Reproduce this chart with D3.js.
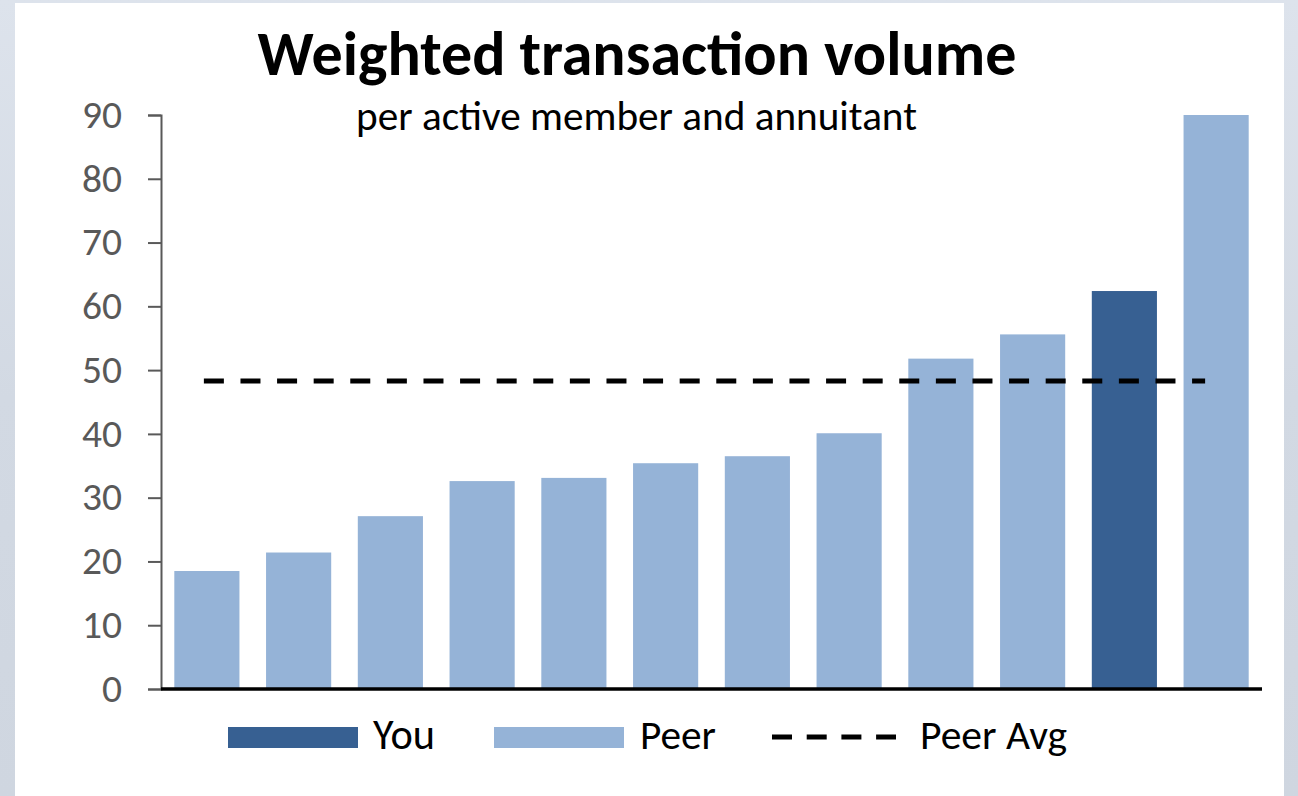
<!DOCTYPE html>
<html>
<head>
<meta charset="utf-8">
<script src="https://cdn.jsdelivr.net/npm/d3@7"></script>
<style>
  html, body { margin: 0; padding: 0; background: #d3dae3; }
  svg { display: block; }
</style>
</head>
<body>
<svg id="chart" width="1298" height="796"></svg>
<script>
// ---- data ----
const categories = ["P1","P2","P3","P4","P5","P6","P7","P8","P9","P10","You","P12"];
const groups = ["Peer","Peer","Peer","Peer","Peer","Peer","Peer","Peer","Peer","Peer","You","Peer"];
const values = [18.5, 21.4, 27.1, 32.6, 33.1, 35.4, 36.5, 40.1, 51.8, 55.6, 62.4, 90.0];
const peerAvg = 48.3;
const yTicks = [0, 10, 20, 30, 40, 50, 60, 70, 80, 90];
const legendItems = ["You", "Peer", "Peer Avg"];
const titleText = "Weighted transaction volume";
const subtitleText = "per active member and annuitant";

const colors = { You: "#376092", Peer: "#95b3d7" };
const FONT = "Carlito, Calibri, Lato, 'Open Sans', sans-serif";

const svg = d3.select("#chart");
const W = 1298, H = 796;

// background
const defs = svg.append("defs");
const grad = defs.append("linearGradient").attr("id", "bg").attr("x1", 0).attr("y1", 0).attr("x2", 0).attr("y2", 1);
grad.append("stop").attr("offset", "0%").attr("stop-color", "#dde3ec");
grad.append("stop").attr("offset", "50%").attr("stop-color", "#d2d9e3");
grad.append("stop").attr("offset", "100%").attr("stop-color", "#cfd6e0");
svg.append("rect").attr("width", W).attr("height", H).attr("fill", "url(#bg)");
svg.append("rect").attr("x", 15).attr("y", 3).attr("width", 1269).attr("height", H - 3).attr("fill", "#ffffff");

// scales
const x0 = 161, x1 = 1262, yTop = 115, yBot = 689;
const x = d3.scaleBand().domain(categories).range([x0, x1]).paddingInner(0.29).paddingOuter(0.145);
const y = d3.scaleLinear().domain([0, 90]).range([yBot, yTop]);

function fitText(sel, targetWidth) {
  const node = sel.node();
  const fs = parseFloat(sel.attr("font-size"));
  const w = node.getComputedTextLength();
  if (w > 0) sel.attr("font-size", (fs * targetWidth / w).toFixed(2));
  return parseFloat(sel.attr("font-size"));
}

// bars
svg.append("g").selectAll("rect")
  .data(values)
  .join("rect")
  .attr("x", (d, i) => x(categories[i]))
  .attr("width", x.bandwidth())
  .attr("y", d => y(d))
  .attr("height", d => y(0) - y(d))
  .attr("fill", (d, i) => colors[groups[i]]);

// y axis
const yAxis = svg.append("g")
  .attr("transform", `translate(${x0},0)`)
  .call(d3.axisLeft(y).tickValues(yTicks).tickSize(13).tickPadding(26).tickFormat(d3.format("d")));
yAxis.attr("font-size", null).attr("font-family", null);
yAxis.select(".domain").attr("stroke", "#595959").attr("stroke-width", 2);
yAxis.selectAll(".tick line").attr("stroke", "#595959").attr("stroke-width", 2);
const tickTexts = yAxis.selectAll(".tick text")
  .attr("fill", "#595959")
  .attr("font-family", FONT)
  .attr("font-size", 30)
  .attr("dy", "0.31em");
// fit size using the "90" label width
const lbl90 = tickTexts.filter(d => d === 90);
const tfs = fitText(lbl90, 40);
tickTexts.attr("font-size", tfs);

// x axis line
svg.append("line")
  .attr("x1", x0).attr("x2", x1)
  .attr("y1", y(0)).attr("y2", y(0))
  .attr("stroke", "#000").attr("stroke-width", 3.5);

// peer average line
const first = categories[0], last = categories[categories.length - 1];
svg.append("line")
  .attr("x1", x(first) + x.bandwidth() / 2 - 3)
  .attr("x2", x(last) + x.bandwidth() / 2 - 11)
  .attr("y1", y(peerAvg)).attr("y2", y(peerAvg))
  .attr("stroke", "#000").attr("stroke-width", 5)
  .attr("stroke-dasharray", "20,16.6");

// title
const t = svg.append("text")
  .attr("x", 637).attr("y", 75)
  .attr("text-anchor", "middle")
  .attr("font-family", FONT).attr("font-weight", "bold")
  .attr("font-size", 50).attr("fill", "#000")
  .text(titleText);
fitText(t, 759);

const st = svg.append("text")
  .attr("x", 636.5).attr("y", 130)
  .attr("text-anchor", "middle")
  .attr("font-family", FONT)
  .attr("font-size", 30).attr("fill", "#000")
  .text(subtitleText);
fitText(st, 561);

// legend
const lg = svg.append("g");
const legendPos = [
  { sx: 228, tx: 373, w: 62, type: "You" },
  { sx: 494, tx: 640, w: 76, type: "Peer" },
  { sx: 772, tx: 920, w: 147, type: "Avg" }
];
legendItems.forEach((name, i) => {
  const p = legendPos[i];
  if (p.type === "Avg") {
    lg.append("line")
      .attr("x1", p.sx).attr("x2", p.sx + 124)
      .attr("y1", 737).attr("y2", 737)
      .attr("stroke", "#000").attr("stroke-width", 5)
      .attr("stroke-dasharray", "20,14.7");
  } else {
    lg.append("rect")
      .attr("x", p.sx).attr("y", 727)
      .attr("width", 130).attr("height", 21)
      .attr("fill", colors[p.type]);
  }
  const lt = lg.append("text")
    .attr("x", p.tx).attr("y", 749)
    .attr("font-family", FONT)
    .attr("font-size", 34).attr("fill", "#000")
    .text(name);
  fitText(lt, p.w);
});
</script>
</body>
</html>
